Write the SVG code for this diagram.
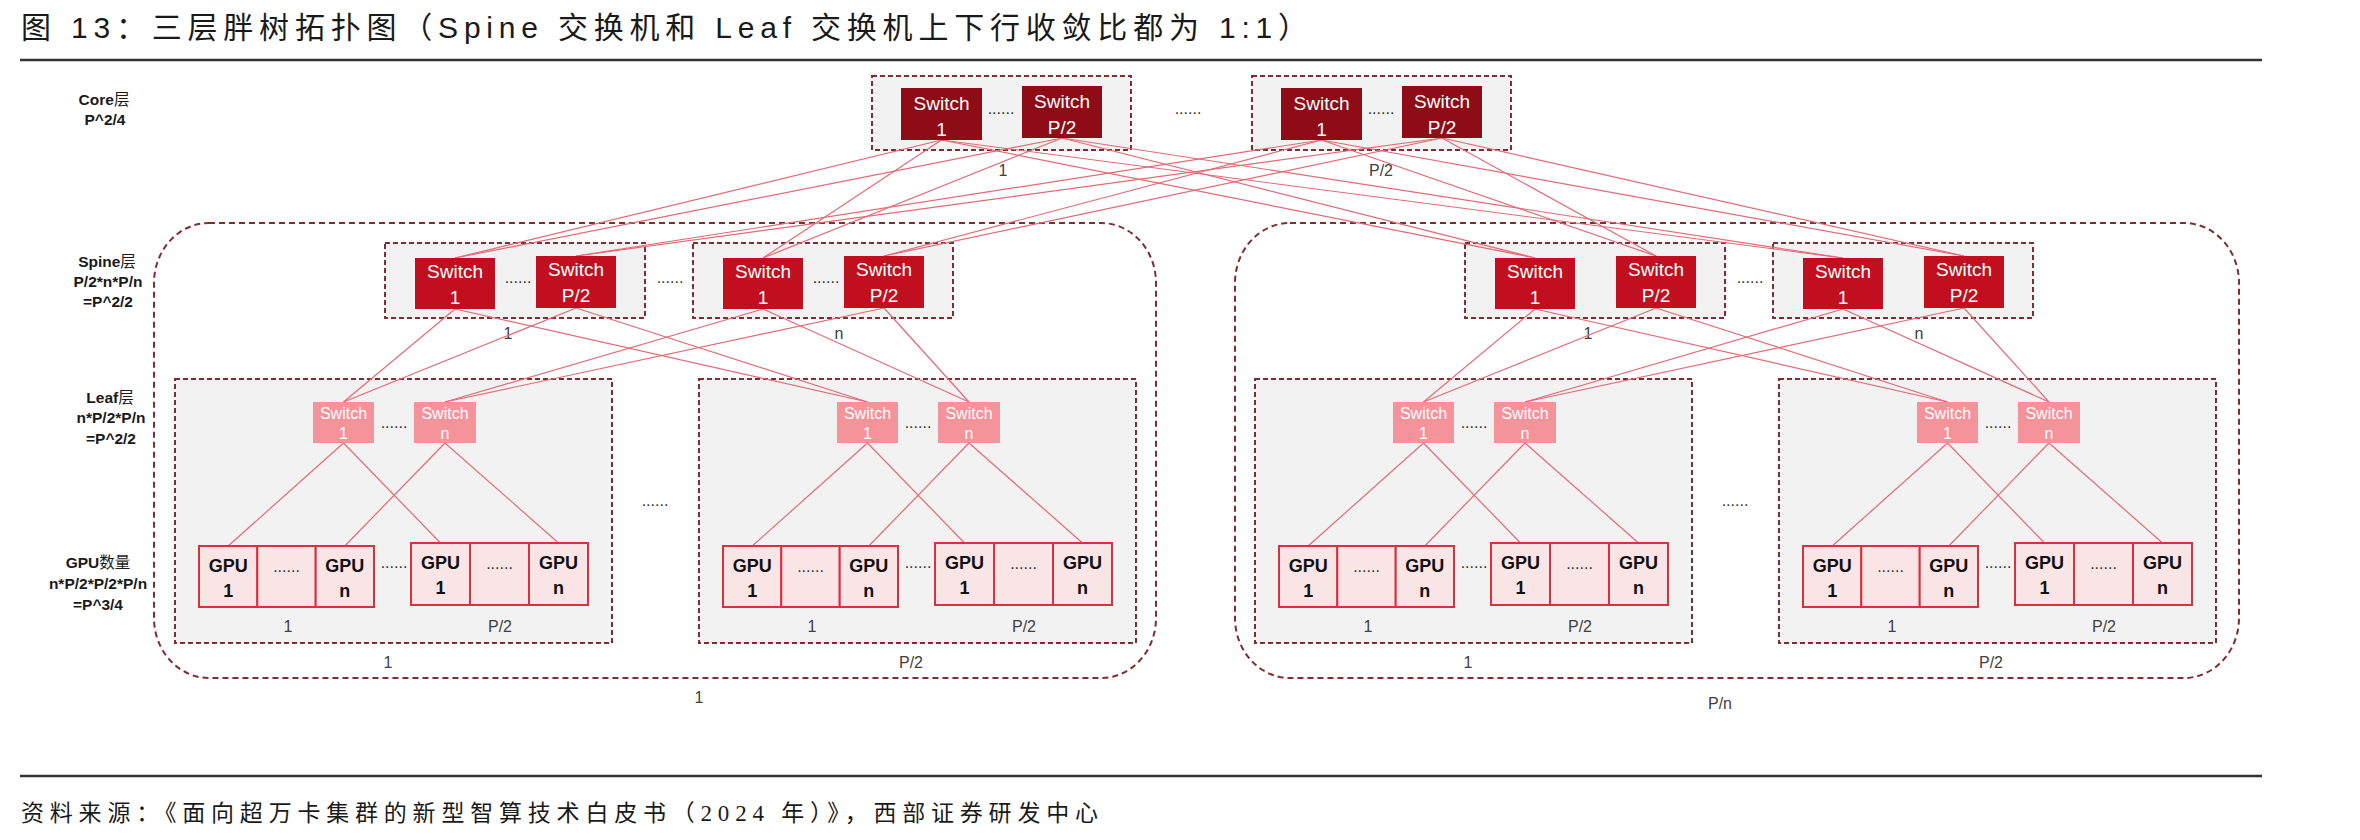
<svg xmlns="http://www.w3.org/2000/svg" width="2360" height="840" viewBox="0 0 2360 840">
<style>
.grp{fill:#f2f2f2;stroke:#7f2d31;stroke-width:2;stroke-dasharray:5 3}
.pod{fill:none;stroke:#7f2d31;stroke-width:2;stroke-dasharray:6 4}
.core{fill:#8e0c16}
.spine{fill:#c10f1f}
.leaf{fill:#f5939b}
.gpu{fill:#f9e4e6;stroke:#d63341;stroke-width:2}
.sw{font-family:"Liberation Sans",Arial,sans-serif;fill:#fff;text-anchor:middle}
.big{font-size:19px}
.small{font-size:16px}
.gt{font-family:"Liberation Sans",Arial,sans-serif;font-weight:bold;font-size:18px;fill:#111;text-anchor:middle}
.lbl{font-family:"Liberation Sans",Arial,sans-serif;font-size:16px;fill:#404040;text-anchor:middle}
.dots{font-family:"Liberation Sans",Arial,sans-serif;font-size:16px;fill:#333;text-anchor:middle}
.side{font-family:"Liberation Sans","Noto Sans CJK SC",sans-serif;font-weight:bold;font-size:15.5px;fill:#1a1a1a;text-anchor:middle}
.cjk{font-weight:normal}
.conn line{stroke:#e46a74;stroke-width:1.2}
.title{font-family:"Liberation Sans","Noto Sans CJK SC",sans-serif;font-size:30px;fill:#1a1a1a}
.src{font-family:"Liberation Serif","Noto Sans CJK SC",serif;font-size:23px;fill:#1a1a1a}
</style>
<rect width="2360" height="840" fill="#fff"/>

<text id="title" class="title" x="21" y="38" textLength="1287" lengthAdjust="spacing">图 13：三层胖树拓扑图（Spine 交换机和 Leaf 交换机上下行收敛比都为 1:1）</text>
<line x1="20" y1="60" x2="2262" y2="60" stroke="#333" stroke-width="2.5"/>
<line x1="20" y1="776" x2="2262" y2="776" stroke="#333" stroke-width="2.5"/>
<text id="source" class="src" x="21" y="821" textLength="1077" lengthAdjust="spacing">资料来源：《面向超万卡集群的新型智算技术白皮书（2024 年）》，西部证券研发中心</text>

<g id="side-labels">
<text class="side" x="104" y="105">Core<tspan class="cjk">层</tspan></text>
<text class="side" x="105" y="125">P^2/4</text>
<text class="side" x="107" y="267">Spine<tspan class="cjk">层</tspan></text>
<text class="side" x="108" y="287">P/2*n*P/n</text>
<text class="side" x="108" y="307">=P^2/2</text>
<text class="side" x="110" y="403">Leaf<tspan class="cjk">层</tspan></text>
<text class="side" x="111" y="423">n*P/2*P/n</text>
<text class="side" x="111" y="444">=P^2/2</text>
<text class="side" x="98" y="568">GPU<tspan class="cjk">数量</tspan></text>
<text class="side" x="98" y="589">n*P/2*P/2*P/n</text>
<text class="side" x="98" y="610">=P^3/4</text>
</g>

<!-- pod containers -->
<g id="pod-1"><rect class="pod" x="154" y="223" width="1002" height="455" rx="55" ry="60"/><text class="lbl" x="699" y="703">1</text></g>
<g id="pod-pn"><rect class="pod" x="1235" y="223" width="1004" height="455" rx="55" ry="60"/><text class="lbl" x="1720" y="709">P/n</text></g>

<!-- group boxes -->
<g id="core-group-1"><rect class="grp" x="872" y="76" width="259" height="74"/><text class="lbl" x="1003" y="176">1</text><text class="dots" x="1001" y="114">......</text></g>
<g id="core-group-p2"><rect class="grp" x="1252" y="76" width="259" height="74"/><text class="lbl" x="1381" y="176">P/2</text><text class="dots" x="1381" y="114">......</text></g>
<text class="dots" x="1188" y="114">......</text>

<g id="spine-group-1-1"><rect class="grp" x="385" y="243" width="260" height="75"/><text class="lbl" x="508" y="339">1</text><text class="dots" x="518" y="283">......</text></g>
<g id="spine-group-1-n"><rect class="grp" x="693" y="243" width="260" height="75"/><text class="lbl" x="839" y="339">n</text><text class="dots" x="826" y="283">......</text></g>
<text class="dots" x="670" y="283">......</text>
<g id="spine-group-2-1"><rect class="grp" x="1465" y="243" width="260" height="75"/><text class="lbl" x="1588" y="339">1</text></g>
<g id="spine-group-2-n"><rect class="grp" x="1773" y="243" width="260" height="75"/><text class="lbl" x="1919" y="339">n</text></g>
<text class="dots" x="1750" y="283">......</text>

<g id="leaf-group-1-1" transform="translate(175,379)"><rect class="grp" width="437" height="264"/><text class="lbl" x="113" y="253">1</text><text class="lbl" x="325" y="253">P/2</text><text class="dots" x="219" y="49">......</text><text class="dots" x="219" y="189">......</text></g>
<g id="leaf-group-1-p2" transform="translate(699,379)"><rect class="grp" width="437" height="264"/><text class="lbl" x="113" y="253">1</text><text class="lbl" x="325" y="253">P/2</text><text class="dots" x="219" y="49">......</text><text class="dots" x="219" y="189">......</text></g>
<g id="leaf-group-2-1" transform="translate(1255,379)"><rect class="grp" width="437" height="264"/><text class="lbl" x="113" y="253">1</text><text class="lbl" x="325" y="253">P/2</text><text class="dots" x="219" y="49">......</text><text class="dots" x="219" y="189">......</text></g>
<g id="leaf-group-2-p2" transform="translate(1779,379)"><rect class="grp" width="437" height="264"/><text class="lbl" x="113" y="253">1</text><text class="lbl" x="325" y="253">P/2</text><text class="dots" x="219" y="49">......</text><text class="dots" x="219" y="189">......</text></g>
<text class="lbl" x="388" y="668">1</text><text class="lbl" x="911" y="668">P/2</text>
<text class="lbl" x="1468" y="668">1</text><text class="lbl" x="1991" y="668">P/2</text>
<text class="dots" x="655" y="506">......</text>
<text class="dots" x="1735" y="506">......</text>

<!-- connectors -->
<g id="connectors" class="conn">
<line x1="941.5" y1="140" x2="455" y2="258"/>
<line x1="941.5" y1="140" x2="763" y2="258"/>
<line x1="941.5" y1="140" x2="1535" y2="258"/>
<line x1="941.5" y1="140" x2="1843" y2="258"/>
<line x1="1062" y1="138" x2="455" y2="258"/>
<line x1="1062" y1="138" x2="763" y2="258"/>
<line x1="1062" y1="138" x2="1535" y2="258"/>
<line x1="1062" y1="138" x2="1843" y2="258"/>
<line x1="1321.5" y1="140" x2="576" y2="256"/>
<line x1="1321.5" y1="140" x2="884" y2="256"/>
<line x1="1321.5" y1="140" x2="1656" y2="256"/>
<line x1="1321.5" y1="140" x2="1964" y2="256"/>
<line x1="1442" y1="138" x2="576" y2="256"/>
<line x1="1442" y1="138" x2="884" y2="256"/>
<line x1="1442" y1="138" x2="1656" y2="256"/>
<line x1="1442" y1="138" x2="1964" y2="256"/>

<line x1="455" y1="309" x2="343.5" y2="402"/>
<line x1="455" y1="309" x2="867.5" y2="402"/>
<line x1="576" y1="308" x2="343.5" y2="402"/>
<line x1="576" y1="308" x2="867.5" y2="402"/>
<line x1="763" y1="309" x2="445" y2="402"/>
<line x1="763" y1="309" x2="969" y2="402"/>
<line x1="884" y1="308" x2="445" y2="402"/>
<line x1="884" y1="308" x2="969" y2="402"/>
<line x1="1535" y1="309" x2="1423.5" y2="402"/>
<line x1="1535" y1="309" x2="1947.5" y2="402"/>
<line x1="1656" y1="308" x2="1423.5" y2="402"/>
<line x1="1656" y1="308" x2="1947.5" y2="402"/>
<line x1="1843" y1="309" x2="1525" y2="402"/>
<line x1="1843" y1="309" x2="2049" y2="402"/>
<line x1="1964" y1="308" x2="1525" y2="402"/>
<line x1="1964" y1="308" x2="2049" y2="402"/>

<line x1="343.5" y1="443" x2="228.2" y2="546"/>
<line x1="343.5" y1="443" x2="440.5" y2="543"/>
<line x1="445" y1="443" x2="344.8" y2="546"/>
<line x1="445" y1="443" x2="558.5" y2="543"/>
<line x1="867.5" y1="443" x2="752.2" y2="546"/>
<line x1="867.5" y1="443" x2="964.5" y2="543"/>
<line x1="969" y1="443" x2="868.8" y2="546"/>
<line x1="969" y1="443" x2="1082.5" y2="543"/>
<line x1="1423.5" y1="443" x2="1308.2" y2="546"/>
<line x1="1423.5" y1="443" x2="1520.5" y2="543"/>
<line x1="1525" y1="443" x2="1424.8" y2="546"/>
<line x1="1525" y1="443" x2="1638.5" y2="543"/>
<line x1="1947.5" y1="443" x2="1832.2" y2="546"/>
<line x1="1947.5" y1="443" x2="2044.5" y2="543"/>
<line x1="2049" y1="443" x2="1948.8" y2="546"/>
<line x1="2049" y1="443" x2="2162.5" y2="543"/>
</g>

<!-- core switches -->
<g id="core-1-sw-1"><rect class="core" x="901" y="88" width="81" height="52"/><text class="sw big" x="941.5" y="110">Switch</text><text class="sw big" x="941.5" y="136">1</text></g>
<g id="core-1-sw-p2"><rect class="core" x="1022" y="86" width="80" height="52"/><text class="sw big" x="1062" y="108">Switch</text><text class="sw big" x="1062" y="134">P/2</text></g>
<g id="core-p2-sw-1"><rect class="core" x="1281" y="88" width="81" height="52"/><text class="sw big" x="1321.5" y="110">Switch</text><text class="sw big" x="1321.5" y="136">1</text></g>
<g id="core-p2-sw-p2"><rect class="core" x="1402" y="86" width="80" height="52"/><text class="sw big" x="1442" y="108">Switch</text><text class="sw big" x="1442" y="134">P/2</text></g>

<!-- spine switches -->
<g id="spine-1-1-sw-1"><rect class="spine" x="415" y="258" width="80" height="51"/><text class="sw big" x="455" y="278">Switch</text><text class="sw big" x="455" y="304">1</text></g>
<g id="spine-1-1-sw-p2"><rect class="spine" x="536" y="256" width="80" height="52"/><text class="sw big" x="576" y="276">Switch</text><text class="sw big" x="576" y="302">P/2</text></g>
<g id="spine-1-n-sw-1"><rect class="spine" x="723" y="258" width="80" height="51"/><text class="sw big" x="763" y="278">Switch</text><text class="sw big" x="763" y="304">1</text></g>
<g id="spine-1-n-sw-p2"><rect class="spine" x="844" y="256" width="80" height="52"/><text class="sw big" x="884" y="276">Switch</text><text class="sw big" x="884" y="302">P/2</text></g>
<g id="spine-2-1-sw-1"><rect class="spine" x="1495" y="258" width="80" height="51"/><text class="sw big" x="1535" y="278">Switch</text><text class="sw big" x="1535" y="304">1</text></g>
<g id="spine-2-1-sw-p2"><rect class="spine" x="1616" y="256" width="80" height="52"/><text class="sw big" x="1656" y="276">Switch</text><text class="sw big" x="1656" y="302">P/2</text></g>
<g id="spine-2-n-sw-1"><rect class="spine" x="1803" y="258" width="80" height="51"/><text class="sw big" x="1843" y="278">Switch</text><text class="sw big" x="1843" y="304">1</text></g>
<g id="spine-2-n-sw-p2"><rect class="spine" x="1924" y="256" width="80" height="52"/><text class="sw big" x="1964" y="276">Switch</text><text class="sw big" x="1964" y="302">P/2</text></g>

<!-- leaf switches and GPUs (per leaf group) -->
<g transform="translate(175,379)">
<g id="leaf-1-1-sw-1"><rect class="leaf" x="138" y="23" width="61" height="41"/><text class="sw small" x="168.5" y="40">Switch</text><text class="sw small" x="168.5" y="60">1</text></g>
<g id="leaf-1-1-sw-n"><rect class="leaf" x="239" y="23" width="62" height="41"/><text class="sw small" x="270" y="40">Switch</text><text class="sw small" x="270" y="60">n</text></g>
<g id="gpu-1-1-1"><rect class="gpu" x="24" y="167" width="58.3" height="61"/><rect class="gpu" x="82.3" y="167" width="58.4" height="61"/><rect class="gpu" x="140.7" y="167" width="58.3" height="61"/><text class="gt" x="53.2" y="193">GPU</text><text class="gt" x="53.2" y="218">1</text><text class="dots" x="111.5" y="193">......</text><text class="gt" x="169.8" y="193">GPU</text><text class="gt" x="169.8" y="218">n</text></g>
<g id="gpu-1-1-p2"><rect class="gpu" x="236" y="164" width="59" height="62"/><rect class="gpu" x="295" y="164" width="59" height="62"/><rect class="gpu" x="354" y="164" width="59" height="62"/><text class="gt" x="265.5" y="190">GPU</text><text class="gt" x="265.5" y="215">1</text><text class="dots" x="324.5" y="190">......</text><text class="gt" x="383.5" y="190">GPU</text><text class="gt" x="383.5" y="215">n</text></g>
</g>
<g transform="translate(699,379)">
<g id="leaf-1-p2-sw-1"><rect class="leaf" x="138" y="23" width="61" height="41"/><text class="sw small" x="168.5" y="40">Switch</text><text class="sw small" x="168.5" y="60">1</text></g>
<g id="leaf-1-p2-sw-n"><rect class="leaf" x="239" y="23" width="62" height="41"/><text class="sw small" x="270" y="40">Switch</text><text class="sw small" x="270" y="60">n</text></g>
<g id="gpu-1-p2-1"><rect class="gpu" x="24" y="167" width="58.3" height="61"/><rect class="gpu" x="82.3" y="167" width="58.4" height="61"/><rect class="gpu" x="140.7" y="167" width="58.3" height="61"/><text class="gt" x="53.2" y="193">GPU</text><text class="gt" x="53.2" y="218">1</text><text class="dots" x="111.5" y="193">......</text><text class="gt" x="169.8" y="193">GPU</text><text class="gt" x="169.8" y="218">n</text></g>
<g id="gpu-1-p2-p2"><rect class="gpu" x="236" y="164" width="59" height="62"/><rect class="gpu" x="295" y="164" width="59" height="62"/><rect class="gpu" x="354" y="164" width="59" height="62"/><text class="gt" x="265.5" y="190">GPU</text><text class="gt" x="265.5" y="215">1</text><text class="dots" x="324.5" y="190">......</text><text class="gt" x="383.5" y="190">GPU</text><text class="gt" x="383.5" y="215">n</text></g>
</g>
<g transform="translate(1255,379)">
<g id="leaf-2-1-sw-1"><rect class="leaf" x="138" y="23" width="61" height="41"/><text class="sw small" x="168.5" y="40">Switch</text><text class="sw small" x="168.5" y="60">1</text></g>
<g id="leaf-2-1-sw-n"><rect class="leaf" x="239" y="23" width="62" height="41"/><text class="sw small" x="270" y="40">Switch</text><text class="sw small" x="270" y="60">n</text></g>
<g id="gpu-2-1-1"><rect class="gpu" x="24" y="167" width="58.3" height="61"/><rect class="gpu" x="82.3" y="167" width="58.4" height="61"/><rect class="gpu" x="140.7" y="167" width="58.3" height="61"/><text class="gt" x="53.2" y="193">GPU</text><text class="gt" x="53.2" y="218">1</text><text class="dots" x="111.5" y="193">......</text><text class="gt" x="169.8" y="193">GPU</text><text class="gt" x="169.8" y="218">n</text></g>
<g id="gpu-2-1-p2"><rect class="gpu" x="236" y="164" width="59" height="62"/><rect class="gpu" x="295" y="164" width="59" height="62"/><rect class="gpu" x="354" y="164" width="59" height="62"/><text class="gt" x="265.5" y="190">GPU</text><text class="gt" x="265.5" y="215">1</text><text class="dots" x="324.5" y="190">......</text><text class="gt" x="383.5" y="190">GPU</text><text class="gt" x="383.5" y="215">n</text></g>
</g>
<g transform="translate(1779,379)">
<g id="leaf-2-p2-sw-1"><rect class="leaf" x="138" y="23" width="61" height="41"/><text class="sw small" x="168.5" y="40">Switch</text><text class="sw small" x="168.5" y="60">1</text></g>
<g id="leaf-2-p2-sw-n"><rect class="leaf" x="239" y="23" width="62" height="41"/><text class="sw small" x="270" y="40">Switch</text><text class="sw small" x="270" y="60">n</text></g>
<g id="gpu-2-p2-1"><rect class="gpu" x="24" y="167" width="58.3" height="61"/><rect class="gpu" x="82.3" y="167" width="58.4" height="61"/><rect class="gpu" x="140.7" y="167" width="58.3" height="61"/><text class="gt" x="53.2" y="193">GPU</text><text class="gt" x="53.2" y="218">1</text><text class="dots" x="111.5" y="193">......</text><text class="gt" x="169.8" y="193">GPU</text><text class="gt" x="169.8" y="218">n</text></g>
<g id="gpu-2-p2-p2"><rect class="gpu" x="236" y="164" width="59" height="62"/><rect class="gpu" x="295" y="164" width="59" height="62"/><rect class="gpu" x="354" y="164" width="59" height="62"/><text class="gt" x="265.5" y="190">GPU</text><text class="gt" x="265.5" y="215">1</text><text class="dots" x="324.5" y="190">......</text><text class="gt" x="383.5" y="190">GPU</text><text class="gt" x="383.5" y="215">n</text></g>
</g>
</svg>
